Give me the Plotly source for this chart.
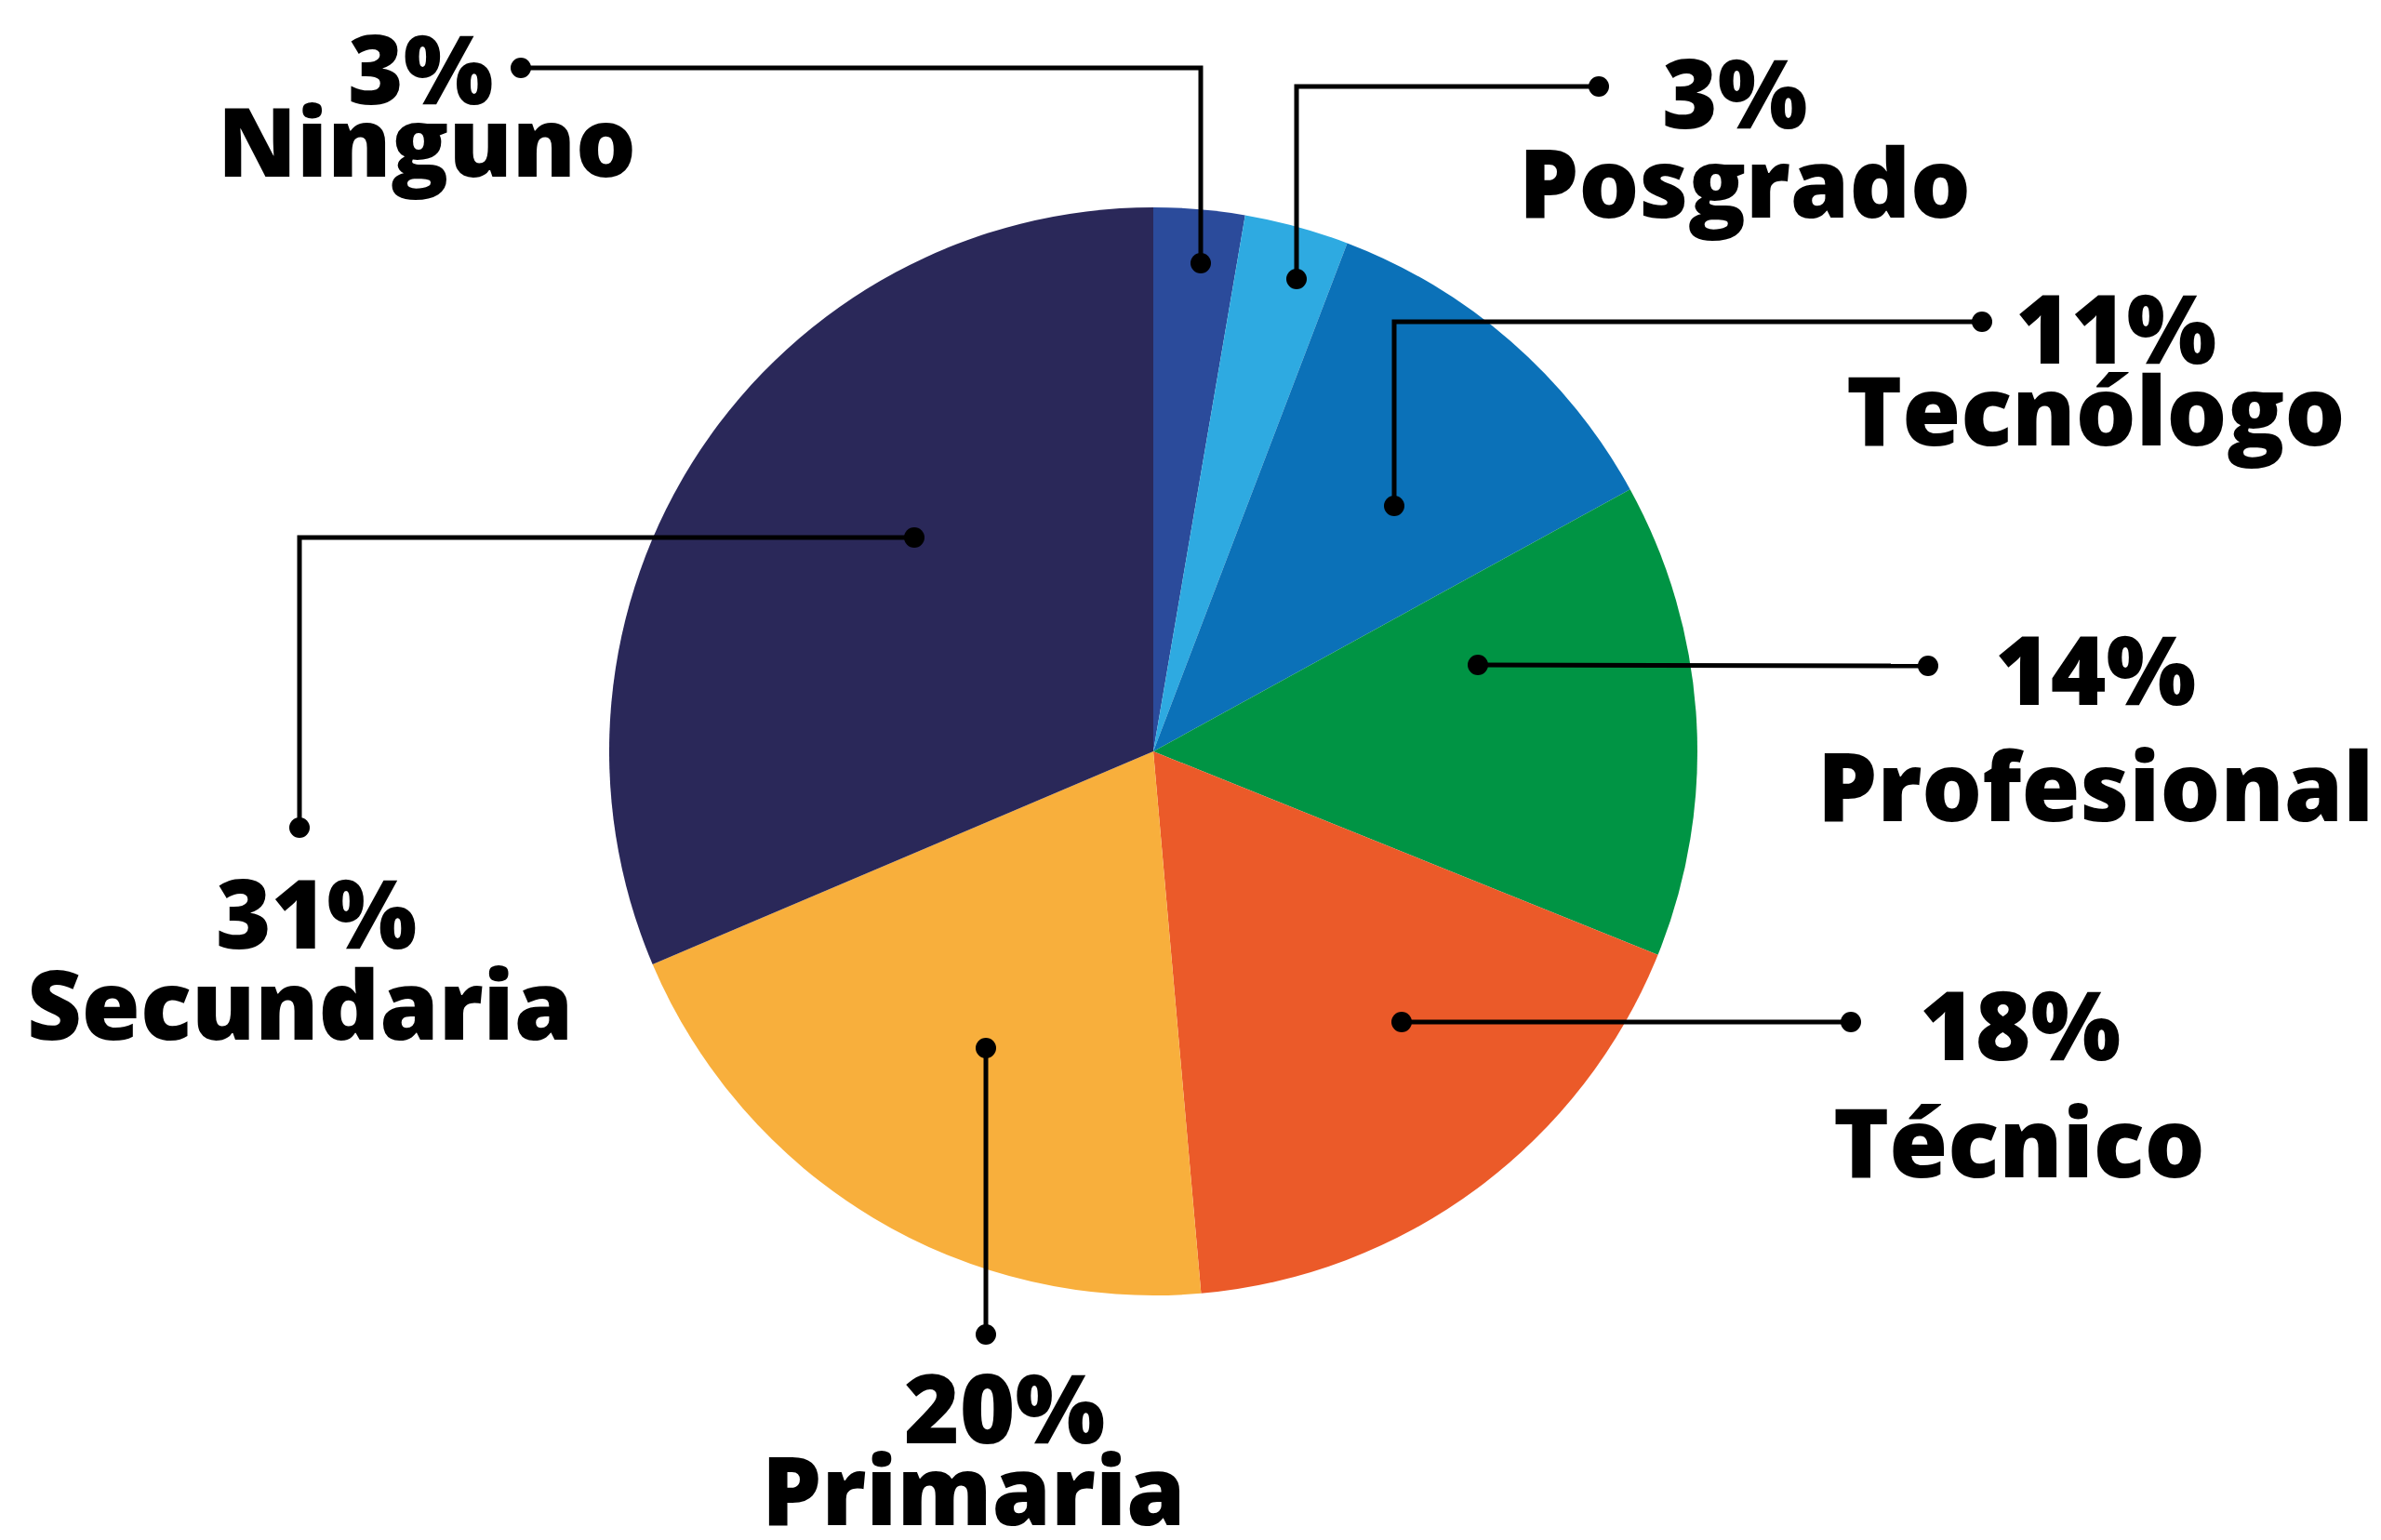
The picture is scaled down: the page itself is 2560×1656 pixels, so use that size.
import plotly.graph_objects as go

# ---- data ----
categories = ["Ninguno", "Posgrado", "Tecnólogo", "Profesional", "Técnico", "Primaria", "Secundaria"]
values = [2.7, 3.1, 11.2, 14.1, 17.5, 20.0, 31.4]
colors = ["#2B4B9B", "#2EAAE1", "#0B71B8", "#009444", "#EB5A29", "#F8AF3C", "#2A2859"]
pct_labels = ["3%", "3%", "11%", "14%", "18%", "20%", "31%"]

W, H = 2560, 1656
CX, CY, R = 1240, 808, 585

# ---- label layout (pixel positions, presentation only) ----
leaders = {
    "Ninguno":     [(1291, 283), (1291, 73), (560, 73)],
    "Posgrado":    [(1394, 300), (1394, 93), (1719, 93)],
    "Tecnólogo":   [(1499, 544), (1499, 346), (2131, 346)],
    "Profesional": [(1589, 715), (2073, 716)],
    "Técnico":     [(1507, 1099), (1990, 1099)],
    "Primaria":    [(1060, 1127), (1060, 1435)],
    "Secundaria":  [(983, 578), (322, 578), (322, 890)],
}
label_pos = {
    "Ninguno":     ((452, 72), (459, 150)),
    "Posgrado":    ((1865, 98), (1876, 194)),
    "Tecnólogo":   ((2275, 351), (2253, 439)),
    "Profesional": ((2253, 718), (2253, 843)),
    "Técnico":     ((2172, 1100), (2171, 1226)),
    "Primaria":    ((1080, 1512), (1047, 1600)),
    "Secundaria":  ((340, 980), (322, 1078)),
}

fig = go.Figure()
fig.add_trace(go.Pie(
    labels=categories, values=values, sort=False, direction="clockwise", rotation=0,
    marker=dict(colors=colors, line=dict(width=0)),
    textinfo="none", hoverinfo="label+percent", showlegend=False,
    domain=dict(x=[(CX - R) / W, (CX + R) / W], y=[(H - CY - R) / H, (H - CY + R) / H]),
))

shapes = []
annotations = []
FONT = dict(family="Open Sans, Liberation Sans, sans-serif", size=102, color="#000000", weight=800)
for cat, pct in zip(categories, pct_labels):
    pts = leaders[cat]
    path = "M " + " L ".join(f"{x},{y}" for x, y in pts)
    shapes.append(dict(type="path", path=path, xref="x", yref="y",
                       line=dict(color="#000000", width=5), layer="above"))
    for (x, y) in (pts[0], pts[-1]):
        r = 11
        shapes.append(dict(type="circle", xref="x", yref="y", x0=x - r, x1=x + r, y0=y - r, y1=y + r,
                           fillcolor="#000000", line=dict(width=0), layer="above"))
    (px, py), (nx, ny) = label_pos[cat]
    annotations.append(dict(x=px, y=py, xref="x", yref="y", text=pct, showarrow=False,
                            xanchor="center", yanchor="middle", font=FONT))
    annotations.append(dict(x=nx, y=ny, xref="x", yref="y", text=cat, showarrow=False,
                            xanchor="center", yanchor="middle", font=FONT))

fig.update_layout(
    width=W, height=H, margin=dict(l=0, r=0, t=0, b=0),
    paper_bgcolor="#FFFFFF", plot_bgcolor="rgba(0,0,0,0)",
    xaxis=dict(range=[0, W], visible=False, fixedrange=True),
    yaxis=dict(range=[H, 0], visible=False, fixedrange=True),
    shapes=shapes, annotations=annotations, showlegend=False,
)

fig.write_html("out.html", config={"displayModeBar": False},
               post_script="document.body.style.margin='0';document.body.style.overflow='hidden';")
